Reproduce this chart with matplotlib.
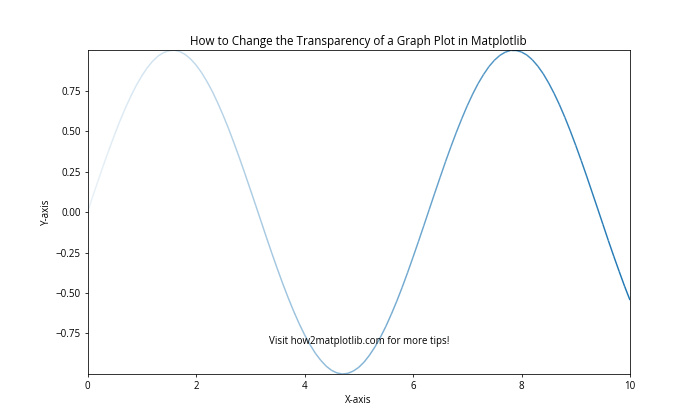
"""Sine curve whose transparency fades in from left to right."""
import numpy as np
import matplotlib.pyplot as plt
from matplotlib.collections import LineCollection

plt.rcParams['font.family'] = ['Open Sans', 'DejaVu Sans']

# sine samples, x from 0 to 10 in steps of 0.1
y = [0.000, 0.100, 0.199, 0.296, 0.389, 0.479, 0.565, 0.644, 0.717, 0.783,
     0.841, 0.891, 0.932, 0.964, 0.985, 0.997, 1.000, 0.992, 0.974, 0.946,
     0.909, 0.863, 0.808, 0.746, 0.675, 0.598, 0.516, 0.427, 0.335, 0.239,
     0.141, 0.042, -0.058, -0.158, -0.256, -0.351, -0.443, -0.530, -0.612, -0.688,
     -0.757, -0.818, -0.872, -0.916, -0.952, -0.978, -0.994, -1.000, -0.996, -0.982,
     -0.959, -0.926, -0.883, -0.832, -0.773, -0.706, -0.631, -0.551, -0.465, -0.374,
     -0.279, -0.182, -0.083, 0.017, 0.117, 0.215, 0.312, 0.405, 0.494, 0.578,
     0.657, 0.729, 0.794, 0.850, 0.899, 0.938, 0.968, 0.988, 0.999, 0.999,
     0.989, 0.970, 0.941, 0.902, 0.855, 0.798, 0.734, 0.663, 0.585, 0.501,
     0.412, 0.319, 0.223, 0.124, 0.025, -0.075, -0.175, -0.272, -0.366, -0.458,
     -0.544]
x = np.linspace(0, 10, len(y))
y = np.array(y)

points = np.column_stack([x, y]).reshape(-1, 1, 2)
segments = np.concatenate([points[:-1], points[1:]], axis=1)
n = len(segments)
# alpha ramps from faint to opaque along the curve
colors = [(0.122, 0.467, 0.706, 0.1 + 0.9 * i / (n - 1)) for i in range(n)]

fig, ax = plt.subplots(figsize=(10, 6), dpi=70)
lc = LineCollection(segments, colors=colors, linewidth=1.5)
ax.add_collection(lc)
ax.set_xlim(0, 10)
ax.set_ylim(-0.999, 0.999)

ax.set_title('How to Change the Transparency of a Graph Plot in Matplotlib', fontsize=12)
ax.set_xlabel('X-axis')
ax.set_ylabel('Y-axis')
ax.text(0.5, 0.1, 'Visit how2matplotlib.com for more tips!', transform=ax.transAxes,
        ha='center', va='center', fontsize=10)

plt.savefig('out.png', dpi=70)
